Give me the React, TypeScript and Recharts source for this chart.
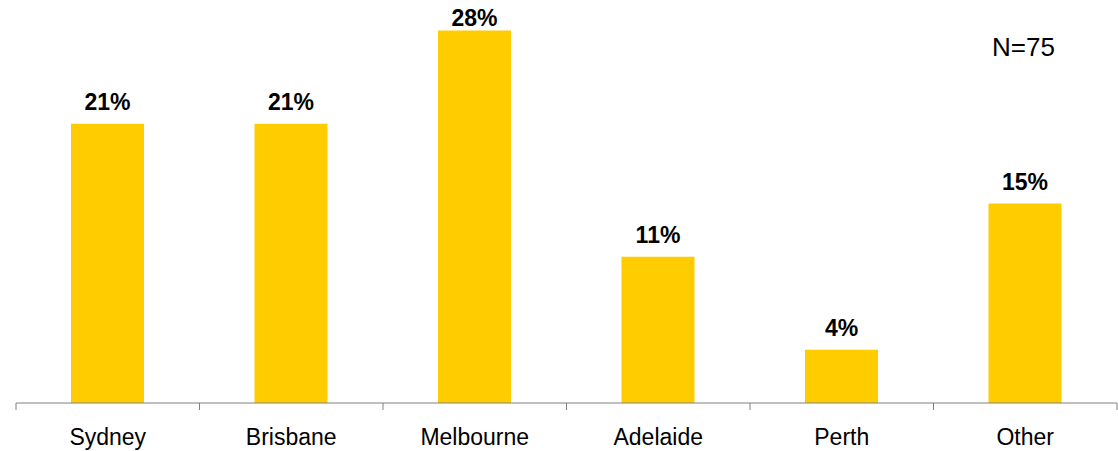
import { BarChart, Bar, XAxis, YAxis, LabelList } from "recharts";

const cities = ["Sydney", "Brisbane", "Melbourne", "Adelaide", "Perth", "Other"];
const shares = [21, 21, 28, 11, 4, 15];
const sampleLabel = "N=75";

const data = cities.map((name, i) => ({ name, share: shares[i] }));

const FONT = '"Liberation Sans", Arial, sans-serif';
const W = 1118;
const H = 451;
const MARGIN = { top: 4, right: 1, left: 16, bottom: 0 };
const BAND = (W - MARGIN.left - MARGIN.right) / cities.length;
const TICK_SIZE = 7;
const TICK_MARGIN = 19;

// category label plus tick marks on the boundaries between categories
function CityTick(props: any) {
  const { x, y, payload, index } = props;
  const top = y - TICK_SIZE - TICK_MARGIN;
  const bottom = top + TICK_SIZE;
  return (
    <g>
      <line x1={x - BAND / 2} x2={x - BAND / 2} y1={top} y2={bottom} stroke="#808080" />
      {index === cities.length - 1 && (
        <line x1={x + BAND / 2} x2={x + BAND / 2} y1={top} y2={bottom} stroke="#808080" />
      )}
      <text x={x} y={y} dy="0.71em" textAnchor="middle" fontSize={23} fill="#000" fontFamily={FONT}>
        {payload.value}
      </text>
    </g>
  );
}

function ValueLabel(props: any) {
  const { x, y, width, value } = props;
  const ty = Math.max(y - 14, 26);
  return (
    <text x={x + width / 2} y={ty} textAnchor="middle" fontSize={23} fontWeight={700} fill="#000" fontFamily={FONT}>
      {`${value}%`}
    </text>
  );
}

export default function App() {
  return (
    <div style={{ position: "absolute", left: 0, top: 0, width: W, height: H, fontFamily: FONT, background: "#fff" }}>
      <BarChart width={W} height={H} data={data} margin={MARGIN}>
        <XAxis
          dataKey="name"
          height={48}
          tickSize={TICK_SIZE}
          tickMargin={TICK_MARGIN}
          axisLine={{ stroke: "#808080" }}
          tickLine={{ stroke: "transparent" }}
          tick={<CityTick />}
          interval={0}
        />
        <YAxis hide domain={[0, 30]} />
        <Bar dataKey="share" fill="#FFCC00" barSize={73} isAnimationActive={false}>
          <LabelList dataKey="share" content={<ValueLabel />} />
        </Bar>
      </BarChart>
      <div style={{ position: "absolute", left: 992, top: 32, fontSize: 26, lineHeight: "30px", color: "#000" }}>
        {sampleLabel}
      </div>
    </div>
  );
}
